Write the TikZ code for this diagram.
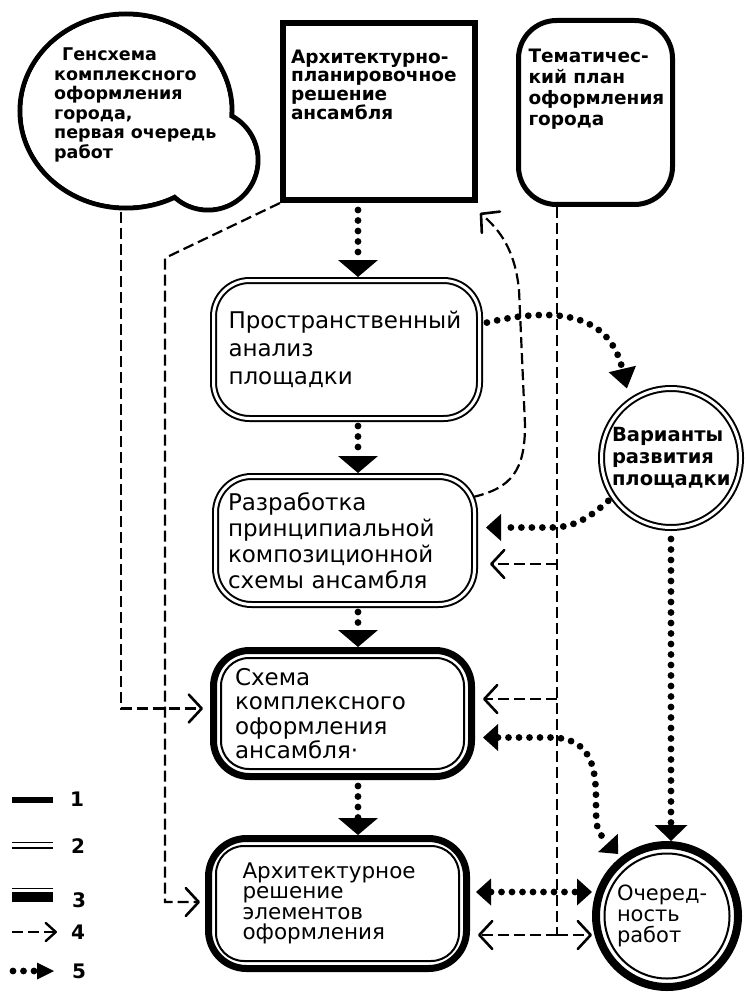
\documentclass[tikz,border=0pt]{standalone}
\usepackage{fontspec}
\setmainfont{DejaVu Sans}
\usetikzlibrary{arrows.meta}
\begin{document}
\begin{tikzpicture}[x=1pt,y=-1pt,
 dotl/.style={line width=6.8pt,line cap=round,dash pattern=on 0pt off 10.5pt},
 dashl/.style={line width=2.2pt,dash pattern=on 11pt off 5pt},
 chevE/.style={-{Straight Barb[length=13pt,width=28pt,line width=2.6pt,round]}},
 bigtri/.style={-{Triangle[length=17pt,width=40pt,line width=0pt]}},
 smtri/.style={-{Triangle[length=15pt,width=27pt,line width=0pt]}},
 smtriB/.style={{Triangle[length=15pt,width=27pt,line width=0pt]}-{Triangle[length=15pt,width=27pt,line width=0pt]}},
 bodytext/.style={font=\fontsize{23}{#1}\selectfont, align=left},
 dblbox/.style={draw, line width=2pt, double=white, double distance=3pt, outer sep=3.5pt, rounded corners=36pt, inner sep=0pt},
 thinbox/.style={draw, line width=2pt, rounded corners=28pt, inner sep=0pt},
 thickbox/.style={draw, line width=7pt, rounded corners=36pt, inner sep=0pt},
 legnum/.style={font=\bfseries\fontsize{20}{20}\selectfont, inner sep=0pt}
]
\useasboundingbox (0,0) rectangle (746,992);
\fill[white] (0,0) rectangle (746,992);

% cloud
\draw[line width=5pt] (126,111) ellipse [x radius=106pt, y radius=97pt];
\draw[line width=5pt] (208,160) circle [radius=50pt];
\fill[white] (126,111) ellipse [x radius=103.5pt, y radius=94.5pt];
\fill[white] (208,160) circle [radius=47.5pt];
\node[anchor=north west, inner sep=0pt, align=left, font=\bfseries\fontsize{17.5}{19.5}\selectfont] (gen) at (54,48)
 {\hspace{8pt}Генсхема\\комплексного\\оформления\\города,\\первая очередь\\работ};
\coordinate (genb) at (121,212);

% top boxes
\node[draw, line width=6pt, inner sep=0pt] (apr) at (379,111.5)
 {\parbox[c][177pt][t]{192pt}{\vspace*{27pt}\raggedright\leftskip=8pt\bfseries\fontsize{18.5}{18.5}\selectfont Архитектурно-\\планировочное\\решение\\ансамбля}};
\node[draw, line width=5pt, rounded corners=38pt, inner sep=0pt] (tem) at (595.5,112.5)
 {\parbox[c][184pt][t]{154pt}{\vspace*{29pt}\raggedright\leftskip=10pt\bfseries\fontsize{18.5}{21}\selectfont Тематичес-\\кий план\\оформления\\города}};

% main column
\node[dblbox, minimum width=266pt, minimum height=138pt, text width=236pt, bodytext=28pt] (prost) at (346.5,349.5)
 {Пространственный\\анализ\\площадки};
\node[dblbox, minimum width=259pt, minimum height=128pt, text width=234pt, bodytext=26pt] (razr) at (345,540.5)
 {Разработка\\принципиальной\\композиционной\\схемы ансамбля};
\node[thinbox, minimum width=243pt, minimum height=111pt, text width=215pt, bodytext=24.5pt] (skh) at (342.5,713.5)
 {Схема\\комплексного\\оформления\\ансамбля·};
\node[thickbox, minimum width=258pt, minimum height=126pt] (skhO) at (skh.center) {};
\node[thinbox, minimum width=243pt, minimum height=115pt, text width=190pt, font=\fontsize{21.5}{20.5}\selectfont, align=left] (arch) at (337.5,903.5)
 {Архитектурное\\решение\\элементов\\оформления};
\node[thickbox, rounded corners=38pt, minimum width=258pt, minimum height=130pt] (archO) at (arch.center) {};

% circles
\node[circle, draw, line width=2pt, double=white, double distance=3pt, outer sep=3.5pt, minimum size=139pt, inner sep=0pt, text width=118pt, align=left, font=\bfseries\fontsize{19.5}{22}\selectfont] (var) at (671,458)
 {Варианты\\развития\\площадки};
\node[circle, draw, line width=2pt, minimum size=125pt, inner sep=0pt, text width=100pt, align=left, font=\fontsize{21}{21}\selectfont] (och) at (667,916)
 {Очеред-\\ность\\работ};
\node[circle, draw, line width=8pt, minimum size=142pt, inner sep=0pt] (ochO) at (och.center) {};

% dotted main flow
\coordinate (c1) at (358,0);
\draw[dotl, bigtri, shorten <=7pt] (c1 |- apr.south) -- (c1 |- prost.north);
\draw[dotl, bigtri, shorten <=4pt] (c1 |- prost.south) -- (c1 |- razr.north);
\draw[dotl, bigtri, shorten <=4pt] (c1 |- razr.south) -- (c1 |- skhO.north);
\draw[dotl, bigtri, shorten <=6pt] (c1 |- skhO.south) -- (c1 |- archO.north);

% dotted side connectors
\draw[dotl, -{Triangle[length=20pt,width=28pt,line width=0pt]}, shorten <=4pt, shorten >=10pt]
 ([yshift=26pt]prost.east) .. controls (575,302) and (612,325) .. (var.125);
\draw[dotl, smtri, shorten <=3pt, shorten >=8pt]
 (var.214) .. controls (585,522) and (570,527.5) .. (550,527.5) -- ([yshift=13pt]razr.east);
\draw[dotl, smtriB, shorten <=8pt, shorten >=4pt]
 ([yshift=-24pt]skhO.east) -- (550,737.5) .. controls (590,737.5) and (596,765) .. (596,800) .. controls (596,830) .. (ochO.128);
\draw[dotl, -{Triangle[length=16pt,width=33pt,line width=0pt]}, shorten <=8pt] (var.south) -- (var.south |- ochO.north);
\draw[dotl, smtriB, shorten <=6pt] ([yshift=11.5pt]archO.east) -- ([yshift=24pt]ochO.west);

% dashed connectors
\coordinate (vx) at (557,0);
\coordinate (vend) at (557,935);
\coordinate (b1) at (557,564);
\coordinate (b2) at (557,699);
\draw[dashl] (vx |- tem.south) -- (vend);
\draw[dashl, chevE, shorten >=12pt] (b1) -- (razr.east |- b1);
\draw[dashl, chevE, shorten >=8pt] (b2) -- (skhO.east |- b2);
\draw[dashl, chevE, shorten >=8pt] (vend) -- (archO.east |- vend);
\draw[dashl, chevE] (vend) -- (ochO.west |- vend);
\draw[dashl, chevE, shorten >=7pt] (genb) |- ([yshift=5pt]skhO.west);
\coordinate (kink) at (165,258);
\draw[dashl, chevE, shorten >=5pt] (apr.south west) -- (kink) |- ([yshift=1.5pt]archO.west);
\draw[dashl, chevE] ([shift={(-5pt,-24pt)}]razr.north east) .. controls (512,488) and (525,470) .. (525,425)
 -- (519,290) .. controls (515,250) and (500,230) .. ([shift={(2pt,-10pt)}]apr.south east);

% legend
\fill (12,797) rectangle (53,803);
\draw[line width=1.6pt] (12,842.5) -- (53,842.5) (12,848) -- (53,848);
\draw[line width=1.6pt] (12,888.5) -- (53,888.5);
\fill (12,892) rectangle (53,901.5);
\draw[dashl, -{Straight Barb[length=10pt,width=18pt,line width=2.4pt,round]}] (12,932) -- (57,932);
\draw[dotl, -{Triangle[length=17pt,width=17pt,line width=0pt]}] (13,971) -- (54,971);
\node[legnum] (l1) at (77,799) {1};
\node[legnum] (l2) at (78,846) {2};
\node[legnum] (l3) at (79,900) {3};
\node[legnum] (l4) at (78,932) {4};
\node[legnum] (l5) at (79,971) {5};
\end{tikzpicture}
\end{document}
